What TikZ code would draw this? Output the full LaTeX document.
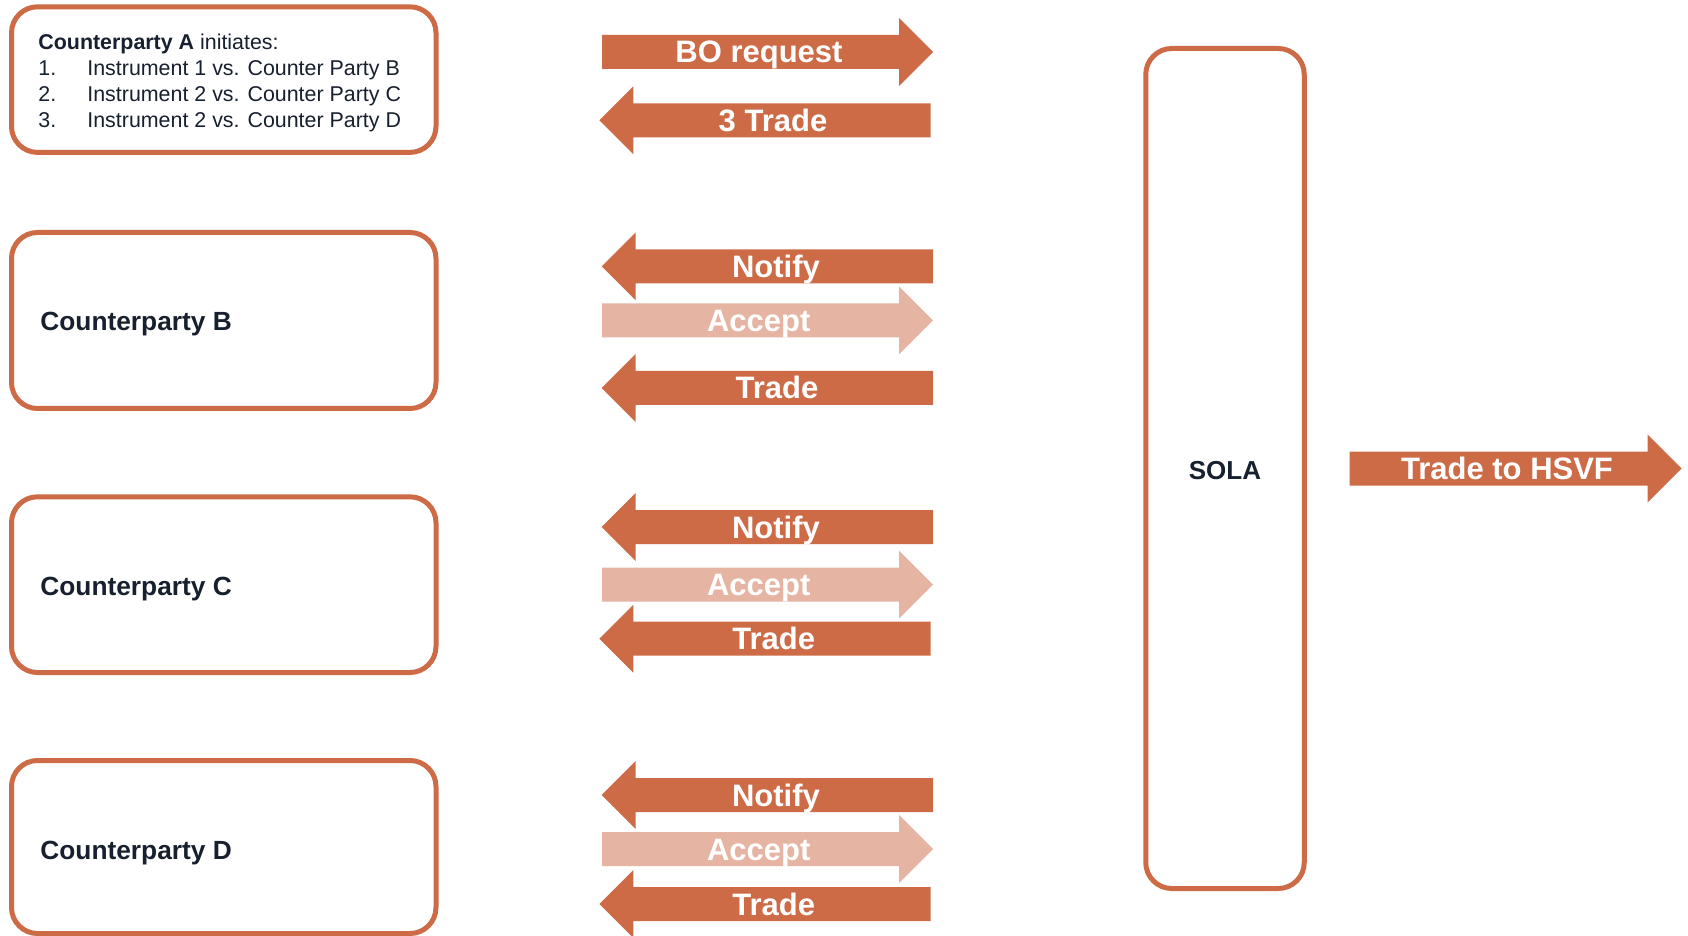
\documentclass[tikz,border=0pt]{standalone}
\usepackage{fontspec}
\setmainfont{Liberation Sans}
\definecolor{org}{RGB}{205,107,71}
\definecolor{lorg}{RGB}{229,180,162}
\definecolor{ink}{RGB}{23,32,46}
\newcommand\RArr[4]{% left x, tip x, center y, colour
  \fill[#4] (#1,#3-17) -- (#2-34,#3-17) -- (#2-34,#3-34) -- (#2,#3) -- (#2-34,#3+34) -- (#2-34,#3+17) -- (#1,#3+17) -- cycle;}
\newcommand\LArr[4]{% tip x, right x, center y, colour
  \fill[#4] (#2,#3-17) -- (#1+34,#3-17) -- (#1+34,#3-34) -- (#1,#3) -- (#1+34,#3+34) -- (#1+34,#3+17) -- (#2,#3+17) -- cycle;}
\tikzset{
  box/.style={draw=org, line width=2.5pt, rounded corners=13pt, fill=white, inner sep=0pt},
  arrtext/.style={text=white, font=\fontsize{15.5pt}{18pt}\selectfont\bfseries, inner sep=0pt, anchor=base},
  cplabel/.style={text=ink, font=\fontsize{13.15pt}{16pt}\selectfont\bfseries, inner sep=0pt, anchor=base west},
  atext/.style={text=ink, font=\fontsize{10.7pt}{13pt}\selectfont, inner sep=0pt, anchor=base west},
}
\begin{document}
\begin{tikzpicture}[x=0.5pt, y=-0.5pt]
\useasboundingbox (0,0) rectangle (1688,936);
% boxes
\node[box, minimum width=212.25pt, minimum height=72.8pt] (A) at (223.75,79.6) {};
\node[box, minimum width=212.25pt, minimum height=88pt] (B) at (223.75,320.5) {};
\node[box, minimum width=212.25pt, minimum height=87.85pt] (C) at (223.75,584.65) {};
\node[box, minimum width=212.25pt, minimum height=86.5pt] (D) at (223.75,847) {};
\node[box, minimum width=79.25pt, minimum height=420pt] (S) at (1225,468.5) {};
% box texts
\node[atext] (a0) at (38,50) {\textbf{Counterparty A} initiates:};
\node[atext] (a1n) at (38,75.5) {1.};
\node[atext] (a1) at (87,75.5) {Instrument 1 vs. Counter Party B};
\node[atext] (a2n) at (38,101.5) {2.};
\node[atext] (a2) at (87,101.5) {Instrument 2 vs. Counter Party C};
\node[atext] (a3n) at (38,127.5) {3.};
\node[atext] (a3) at (87,127.5) {Instrument 2 vs. Counter Party D};
\node[cplabel] (lb) at (40,331) {Counterparty B};
\node[cplabel] (lc) at (40,595) {Counterparty C};
\node[cplabel] (ld) at (40,859) {Counterparty D};
\node[text=ink, font=\fontsize{13pt}{16pt}\selectfont\bfseries, inner sep=0pt, anchor=base] (ls) at (1225,479.3) {SOLA};
% arrows group A
\RArr{602}{933}{52}{org}
\node[arrtext] (t1) at (759,63) {BO request};
\LArr{599.3}{930.7}{120.3}{org}
\node[arrtext] (t2) at (773,131.5) {3 Trade};
% group B
\LArr{601.7}{933}{266.3}{org}
\node[arrtext] (t3) at (776,277.5) {Notify};
\RArr{602}{933}{320.3}{lorg}
\node[arrtext] (t4) at (758.7,331.5) {Accept};
\LArr{601.7}{933}{388}{org}
\node[arrtext] (t5) at (777,398.5) {Trade};
% group C
\LArr{601.7}{933}{527}{org}
\node[arrtext] (t6) at (776,538.3) {Notify};
\RArr{602}{933}{584.7}{lorg}
\node[arrtext] (t7) at (758.7,595.8) {Accept};
\LArr{599.3}{930.7}{638.7}{org}
\node[arrtext] (t8) at (773.7,649.8) {Trade};
% group D
\LArr{601.7}{933}{795}{org}
\node[arrtext] (t9) at (776,806.3) {Notify};
\RArr{602}{933}{849}{lorg}
\node[arrtext] (t10) at (758.7,860.2) {Accept};
\LArr{599.3}{930.7}{904}{org}
\node[arrtext] (t11) at (773.7,915.2) {Trade};
% Trade to HSVF
\RArr{1349.6}{1681.6}{468.5}{org}
\node[arrtext] (t12) at (1507,480) {Trade to HSVF};
\end{tikzpicture}
\end{document}
